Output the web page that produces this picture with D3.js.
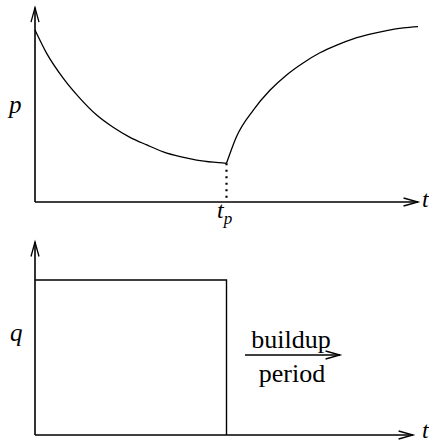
<!DOCTYPE html>
<html><head><meta charset="utf-8">
<script src="https://cdn.jsdelivr.net/npm/d3@7"></script>
<style>body{margin:0;background:#fff}svg{display:block}</style>
</head><body>
<script>
// Data (arbitrary units)
const tp = 50;
const decayT = [0, 3.05, 7.4, 11.75, 16.1, 20.4, 24.8, 29.2, 33.5, 37.9, 42.2, 46.6, 50];
const decayP = [95.6, 82.6, 68.7, 57.6, 48.3, 41.5, 35.9, 31.7, 27.9, 25.2, 23.3, 22.1, 21.5];
const buildT = [50, 52.6, 57.0, 61.4, 65.7, 70.1, 74.4, 78.8, 83.1, 87.5, 91.8, 96.2, 100];
const buildP = [21.5, 36.3, 51.1, 62.2, 70.6, 77.4, 82.9, 87.2, 90.6, 93.2, 95.2, 96.7, 97.4];
const rateT = [0, 50];
const rateQ = [100, 100];
const labels = {p: "p", q: "q", t: "t", tp: "t", tpSub: "p", line1: "buildup", line2: "period"};

const W = 429, H = 443;
const svg = d3.select("body").append("svg").attr("width", W).attr("height", H);

const x = d3.scaleLinear().domain([0, 100]).range([35, 418]);
const yP = d3.scaleLinear().domain([0, 100]).range([202, 22]);
const yQ = d3.scaleLinear().domain([0, 100]).range([435, 280]);

function arrowAxis(x0, y0, x1, y1) {
  const g = svg.append("g").attr("stroke", "#000").attr("fill", "none").attr("stroke-width", 1.6);
  g.append("line").attr("x1", x0).attr("y1", y0).attr("x2", x1).attr("y2", y1);
  const ang = Math.atan2(y1 - y0, x1 - x0), L = 15, S = 0.27;
  const a1 = [x1 - L * Math.cos(ang - S), y1 - L * Math.sin(ang - S)];
  const a2 = [x1 - L * Math.cos(ang + S), y1 - L * Math.sin(ang + S)];
  g.append("path").attr("stroke-width", 1.3).attr("d", `M${a1}L${x1},${y1}L${a2}`);
}

// Top panel axes
arrowAxis(x(0), yP(0), x(0), yP(108));
arrowAxis(x(0), yP(0), x(100), yP(0));
// Bottom panel axes
arrowAxis(x(0), yQ(0), x(0), yQ(124.5));
arrowAxis(x(0), yQ(0), x(98.7), yQ(0));

const line = d3.line().curve(d3.curveMonotoneX);
svg.append("path").attr("fill", "none").attr("stroke", "#000").attr("stroke-width", 1.3)
  .attr("d", line(decayT.map((t, i) => [x(t), yP(decayP[i])])));
svg.append("path").attr("fill", "none").attr("stroke", "#000").attr("stroke-width", 1.3)
  .attr("d", line(buildT.map((t, i) => [x(t), yP(buildP[i])])));

// dotted drop line at tp
svg.append("line").attr("x1", x(tp)).attr("x2", x(tp))
  .attr("y1", yP(decayP[decayP.length - 1])).attr("y2", yP(0))
  .attr("stroke", "#000").attr("stroke-width", 2.2).attr("stroke-dasharray", "2,4.5");

// rate box
svg.append("path").attr("fill", "none").attr("stroke", "#000").attr("stroke-width", 1.4)
  .attr("d", `M${x(rateT[0])},${yQ(rateQ[0])}L${x(rateT[1])},${yQ(rateQ[1])}L${x(rateT[1])},${yQ(0)}`);

const font = "'Liberation Serif', 'Times New Roman', serif";
function txt(s, px, py, size, italic, anchor) {
  return svg.append("text").attr("x", px).attr("y", py).style("font-family", font)
    .attr("font-size", size).attr("font-style", italic ? "italic" : "normal")
    .attr("text-anchor", anchor || "start").text(s);
}
txt(labels.p, 9, 113, 25, true);
txt(labels.q, 10, 341, 25, true);
txt(labels.t, 422, 207, 24, true);
txt(labels.t, 422, 438, 24, true);
const tpT = txt(labels.tp, 217, 218, 24, true);
tpT.append("tspan").attr("font-size", 17).attr("dy", 6).text(labels.tpSub);
txt(labels.line1, 291, 348, 26, false, "middle");
txt(labels.line2, 292, 382, 26, false, "middle");
// arrow under buildup
arrowAxis(245, 355, 340, 355);
</script>
</body></html>
